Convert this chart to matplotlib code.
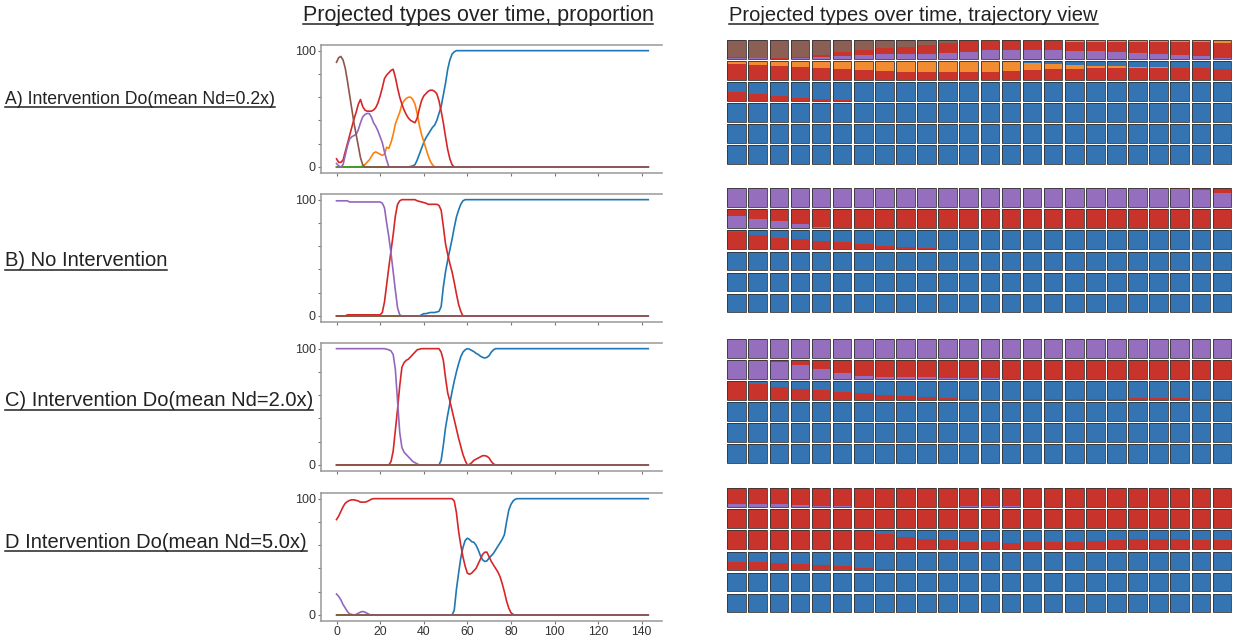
import matplotlib.pyplot as plt
from matplotlib.patches import Rectangle
from matplotlib.lines import Line2D

W, H = 1233, 637
plt.rcParams['font.family'] = ['Liberation Sans', 'DejaVu Sans']

# time steps 0..143 (one tile per step in the trajectory view)
time = list(range(144))

# A) Intervention Do(mean Nd=0.2x)
a_blue = [0] * 34 + [0.5, 1, 2, 6, 11, 16, 21, 25, 28, 31, 34, 36, 40, 46, 52, 62, 72, 84, 92, 97, 99] + [100] * 89
a_orange = [0] * 12 + [1, 2, 4, 6, 9, 12, 13, 12, 11, 10, 11, 17, 16, 21, 28, 37, 42, 47, 54, 57,
                       59, 60, 60, 58, 54, 46, 36, 28, 22, 16, 10, 5, 2] + [0] * 99
a_green = [0] * 144
a_red = [7, 4, 4, 6, 13, 20, 27, 34, 41, 47, 54, 58, 52, 49, 48, 48, 48, 49, 51, 55,
         61, 68, 76, 79, 81, 83, 84, 77, 68, 60, 54, 49, 45, 42, 40, 39, 38, 42, 50, 57,
         61, 63, 65, 66, 66, 65, 63, 57, 48, 38, 26, 15, 7, 2] + [0] * 90
a_purple = [3, 1, 0, 2, 10, 18, 24, 26, 27, 28, 32, 38, 43, 45, 46, 46, 43, 38, 35, 31,
            26, 21, 13, 6] + [0] * 120
a_brown = [90, 94, 95, 92, 85, 74, 62, 50, 38, 28, 18, 8, 2] + [0] * 131

# B) No Intervention
b_blue = [0] * 39 + [1, 2, 2, 2.5, 3, 3, 3, 3.5, 4, 8, 25, 38, 48, 57, 66, 76, 85, 91, 96, 99] + [100] * 85
b_orange = [0] * 144
b_green = [0] * 144
b_red = [0] * 5 + [1] * 16 + [3, 12, 27, 42, 56, 70, 86, 96, 99, 100, 100, 100, 100, 100, 100, 100,
                              99, 98.5, 98, 97.5, 97, 96, 96, 96, 96, 96, 95, 91, 77, 62, 53, 45,
                              38, 29, 19, 10, 4] + [0] * 86
b_purple = [99] * 6 + [98] * 15 + [97, 93, 80, 68, 54, 38, 22, 7, 1] + [0] * 114
b_brown = [0] * 144

# C) Intervention Do(mean Nd=2.0x)
c_blue = [0] * 48 + [4, 17, 32, 43, 53, 63, 72, 80, 87, 93, 97, 99, 100, 99.5, 98.5, 97.5, 96, 95,
                     93.5, 92.5, 92, 92.5, 94, 97, 99] + [100] * 71
c_orange = [0] * 144
c_green = [0] * 144
c_red = [0] * 25 + [3, 12, 30, 48, 68, 84, 88, 90, 91, 93, 95, 97, 99, 99.5] + [100] * 9 + \
        [97, 90, 75, 62, 55, 47, 39, 31, 23, 16, 9, 4, 0, 0.5, 2, 4, 5, 6, 7, 8,
         8, 7.5, 6, 3, 1] + [0] * 71
c_purple = [100] * 23 + [99.5, 99, 98, 95, 82, 55, 28, 15, 11, 9, 7, 5, 3, 2, 1] + [0] * 106
c_brown = [0] * 144

# D Intervention Do(mean Nd=5.0x)
d_blue = [0] * 54 + [4, 22, 36, 49, 58, 64, 66, 65, 63, 62.5, 60, 56, 51, 47.5, 46, 46.5, 49, 51,
                     53, 56, 59, 62, 65, 69, 80, 90, 95, 98, 99.5] + [100] * 61
d_orange = [0] * 144
d_green = [0] * 144
d_red = [82, 85, 89, 93, 96, 97.5, 98.5, 99, 99, 98.5, 98, 97, 97, 97, 97.5, 98.5, 99.5] + [100] * 37 + \
        [98, 88, 72, 60, 50, 42, 36, 35, 36, 38, 40, 44, 48, 52, 54, 54, 50, 46, 43, 40,
         37, 33, 27, 20, 12, 6, 2, 0.5] + [0] * 62
d_purple = [18, 16, 13, 9, 6, 3, 1, 0.5, 0, 0.5, 1.5, 2.5, 3, 2.5, 1.5, 0.5] + [0] * 128
d_brown = [0] * 144

panel_labels = ['A) Intervention Do(mean Nd=0.2x)', 'B) No Intervention',
                'C) Intervention Do(mean Nd=2.0x)', 'D Intervention Do(mean Nd=5.0x)']
panel_data = [
    {'blue': a_blue, 'orange': a_orange, 'green': a_green, 'red': a_red, 'purple': a_purple, 'brown': a_brown},
    {'blue': b_blue, 'orange': b_orange, 'green': b_green, 'red': b_red, 'purple': b_purple, 'brown': b_brown},
    {'blue': c_blue, 'orange': c_orange, 'green': c_green, 'red': c_red, 'purple': c_purple, 'brown': c_brown},
    {'blue': d_blue, 'orange': d_orange, 'green': d_green, 'red': d_red, 'purple': d_purple, 'brown': d_brown},
]

line_order = ['blue', 'orange', 'green', 'red', 'purple', 'brown']
line_colors = {'blue': '#1f77b4', 'orange': '#ff7f0e', 'green': '#2ca02c',
               'red': '#d62728', 'purple': '#9467bd', 'brown': '#8c564b'}
tile_order = ['blue', 'brown', 'orange', 'red', 'purple', 'green']
tile_colors = {'blue': '#3474b2', 'orange': '#f28c32', 'green': '#3f9f3f',
               'red': '#c8342c', 'purple': '#966ebe', 'brown': '#8c5f55'}

# layout in pixels (top-left origin)
line_tops = [45.3, 194.3, 343.3, 493.3]
grid_tops = [38.75, 187.0, 337.75, 487.0]
label_baselines = [103.5, 266.5, 406.5, 547.5]
label_sizes = [12.7, 14.5, 14.5, 14.5]

fig = plt.figure(figsize=(W / 100, H / 100), dpi=100)


def px_axes(left, top, width, height):
    return fig.add_axes([left / W, 1 - (top + height) / H, width / W, height / H])


underlines = []


def put_text(x, baseline, s, size, ha='left'):
    t = fig.text(x / W, 1 - baseline / H, s, fontsize=size, ha=ha, va='baseline', color='#222222')
    underlines.append((t, baseline + 3.3))


for i, data in enumerate(panel_data):
    # proportion view
    ax = px_axes(320.7, line_tops[i], 341.3, 127.4)
    for name in line_order:
        ax.plot(time, data[name], color=line_colors[name], lw=1.2)
    ax.set_xlim(-7.25, 149.3)
    ax.set_ylim(-4.9, 104.6)
    ax.set_yticks([0, 20, 40, 60, 80, 100])
    ax.set_yticklabels(['0', '', '', '', '', '100'])
    ax.set_xticks(range(0, 141, 20))
    if i < 3:
        ax.set_xticklabels([])
    ax.tick_params(axis='y', length=2.5, pad=1, labelsize=9, color='#777777', labelcolor='#333333')
    ax.tick_params(axis='x', length=2.5, pad=1, labelsize=8.8, color='#777777', labelcolor='#333333')
    for side in ['top', 'left', 'bottom']:
        ax.spines[side].set_color('#999999')
        ax.spines[side].set_linewidth(1.1)
    ax.spines['right'].set_visible(False)

    # trajectory view: 24 x 6 tiles, one per time step
    g = px_axes(726.1, grid_tops[i], 506.4, 126.6)
    g.set_xlim(0, 24)
    g.set_ylim(6, 0)
    g.axis('off')
    gap = 0.118
    size = 1 - gap
    for t in time:
        row, col = divmod(t, 24)
        x0 = col + gap / 2
        y = row + gap / 2
        total = sum(data[n][t] for n in tile_order)
        for name in tile_order:
            h = size * data[name][t] / total
            if h > 0:
                g.add_patch(Rectangle((x0, y), size, h, facecolor=tile_colors[name],
                                      edgecolor='none', clip_on=False))
                y += h
        g.add_patch(Rectangle((x0, row + gap / 2), size, size, facecolor='none',
                              edgecolor='#333333', lw=0.6, clip_on=False))

    put_text(5, label_baselines[i], panel_labels[i], label_sizes[i])

put_text(478, 20.7, 'Projected types over time, proportion', 15.5, ha='center')
put_text(729, 20.7, 'Projected types over time, trajectory view', 14.5)

fig.canvas.draw()
for t, ly in underlines:
    bb = t.get_window_extent()
    fig.add_artist(Line2D([bb.x0 / W, bb.x1 / W], [1 - ly / H, 1 - ly / H],
                          transform=fig.transFigure, color='#222222', lw=1.1))

fig.savefig('out.png', dpi=100)
